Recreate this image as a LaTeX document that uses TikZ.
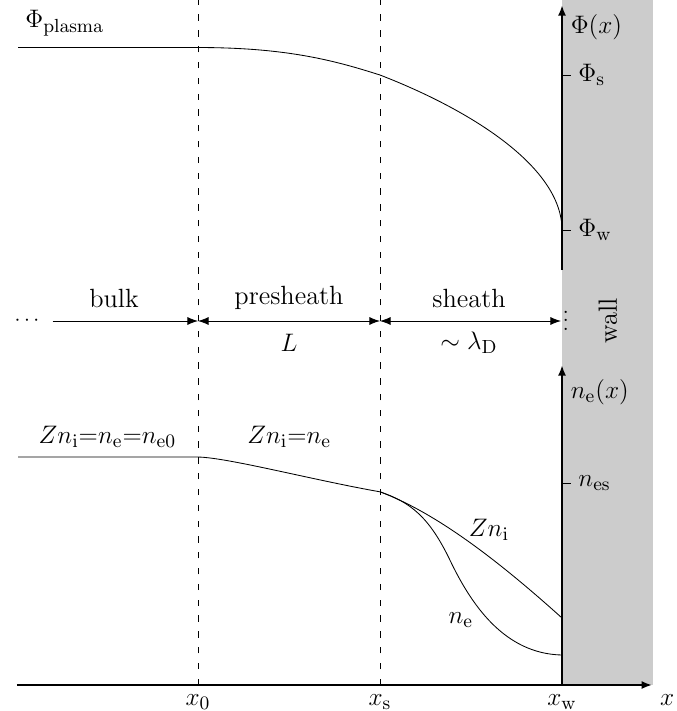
\documentclass[tikz,border=0pt]{standalone}
\usetikzlibrary{arrows.meta,positioning,calc}
\begin{document}
\begin{tikzpicture}[>={Latex[length=5pt,width=3.8pt]},font=\fontsize{12.5}{15}\selectfont]
\tikzstyle{ax}=[line width=1pt,->]
\tikzstyle{dsh}=[dash pattern=on 3pt off 4.5pt,line width=0.4pt]
\tikzstyle{tk}=[line width=0.4pt]
\tikzstyle{crv}=[line width=0.4pt]
\useasboundingbox (0,-0.433) rectangle (11.267,11.417);
% wall
\fill[black!20] (9.367,0) rectangle (10.883,11.417);
\foreach \x in {3.3,6.333} \draw[dsh] (\x,0) -- (\x,11.417);
% axes
\coordinate (xl) at (0.28,0); \coordinate (xr) at (10.87,0); \coordinate (O) at (9.367,0);
\coordinate (pb) at (9.367,6.917); \coordinate (pt) at (9.367,11.333); \coordinate (nt) at (9.367,5.333);
\draw[ax] (xl) -- (xr);
\draw[ax] (pb) -- (pt);
\draw[ax] (O) -- (nt);
\node (xlab) at (11.12,-0.25) {$x$};
\foreach \x/\s/\n in {3.3/0/lx0,6.333/\mathrm{s}/lxs,9.367/\mathrm{w}/lxw} \node[below,inner sep=2pt] (\n) at (\x,-0.08) {$x_{\s}$};
\node[anchor=west] (philab) at (9.39,10.97) {$\Phi(x)$};
\node[anchor=west] (nlab) at (9.39,4.88) {$n_\mathrm{e}(x)$};
\foreach \y/\t/\n in {10.167/\Phi_\mathrm{s}/ps,7.583/\Phi_\mathrm{w}/pw,3.367/n_\mathrm{es}/nes} \draw[tk] (9.367,\y) -- ++(0.15,0) node[right] (\n) {$\t$};
% potential
\coordinate (p0) at (0.3,10.625); \coordinate (p1) at (3.3,10.625); \coordinate (p2) at (6.333,10.167); \coordinate (p3) at (9.367,7.583);
\draw[crv] (p0) -- (p1) .. controls (4.8,10.625) and (5.6,10.40) .. (p2) .. controls (7.8,9.6) and (9.367,8.65) .. (p3);
\node[anchor=west] (phipl) at (0.3,11.03) {$\Phi_\mathrm{plasma}$};
% regions
\node[font=\normalsize] (dots) at (0.45,6.067) {$\cdots$};
\coordinate (b0) at (3.3,6.067); \coordinate (bs) at (6.333,6.067); \coordinate (bw) at (9.35,6.067);
\draw[->,shorten <=2.8pt] (dots) -- (b0);
\draw[<->] (b0) -- (bs);
\draw[<->] (bs) -- (bw);
\node (bulk) at (1.9,6.45) {bulk};
\node (pre) at (4.817,6.45) {presheath};
\node (sh) at (7.817,6.45) {sheath};
\node (L) at (4.817,5.7) {$L$};
\node (lam) at (7.817,5.7) {$\sim\lambda_\mathrm{D}$};
\node[anchor=base,font=\normalsize] (vd) at (9.43,5.91) {$\vdots$};
\node[rotate=90] (wl) at (10.13,6.067) {wall};
% densities
\coordinate (n0) at (0.3,3.8); \coordinate (n1) at (3.3,3.8); \coordinate (n2) at (6.333,3.22);
\coordinate (ni) at (9.367,1.117); \coordinate (ne) at (9.367,0.5);
\draw[crv] (n0) -- (n1) .. controls (3.8,3.79) and (5.2,3.42) .. (n2);
\draw[crv] (n2) .. controls (7.3,2.86) and (8.367,2.017) .. (ni);
\draw[crv] (n2) .. controls (6.833,3.05) and (7.15,2.81) .. (7.5,2.08) .. controls (7.85,1.35) and (8.4,0.52) .. (ne);
\node (q0) at (1.79,4.13) {$Zn_\mathrm{i}{=}n_\mathrm{e}{=}n_\mathrm{e0}$};
\node (q1) at (4.82,4.13) {$Zn_\mathrm{i}{=}n_\mathrm{e}$};
\node (zni) at (8.15,2.58) {$Zn_\mathrm{i}$};
\node (nel) at (7.68,1.08) {$n_\mathrm{e}$};
\end{tikzpicture}
\end{document}
